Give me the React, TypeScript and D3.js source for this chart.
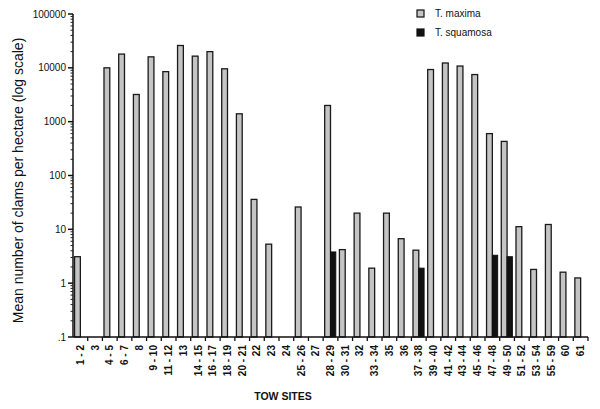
import { useEffect, useRef } from "react";
import * as d3 from "d3";

// tow sites along the x axis
const sites = [
  "1-2", "3", "4-5", "6-7", "8", "9-10", "11-12", "13", "14-15", "16-17",
  "18-19", "20-21", "22", "23", "24", "25-26", "27", "28-29", "30-31", "32",
  "33-34", "35", "36", "37-38", "39-40", "41-42", "43-44", "45-46", "47-48",
  "49-50", "51-52", "53-54", "55-59", "60", "61",
];

// mean clams per hectare, 0 = none found
const maxima = [
  3.1, 0, 10000, 18000, 3200, 16000, 8500, 26000, 16500, 20000,
  9600, 1400, 36, 5.3, 0, 26, 0, 2000, 4.2, 20,
  1.9, 20, 6.7, 4.1, 9300, 12300, 10800, 7500, 600,
  430, 11.2, 1.8, 12.3, 1.6, 1.25,
];
const squamosa = [
  0, 0, 0, 0, 0, 0, 0, 0, 0, 0,
  0, 0, 0, 0, 0, 0, 0, 3.8, 0, 0,
  0, 0, 0, 1.9, 0, 0, 0, 0, 3.3,
  3.1, 0, 0, 0, 0, 0,
];

const yTicks = [0.1, 1, 10, 100, 1000, 10000, 100000];
const yTickLabels = [".1", "1", "10", "100", "1000", "10000", "100000"];

function App() {
  const ref = useRef<SVGSVGElement | null>(null);

  useEffect(() => {
    const svg = d3.select(ref.current);
    svg.selectAll("*").remove();

    const left = 73, right = 588, top = 14, bottom = 337;
    const font = "Liberation Sans, Arial, sans-serif";

    const x = d3.scaleBand().domain(sites).range([left, right]);
    const y = d3.scaleLog().domain([0.1, 100000]).range([bottom, top]);
    const bw = 5.8;

    const g = svg.append("g");

    // maxima bars (left half of each site)
    g.selectAll("rect.max")
      .data(sites.map((s, i) => ({ s, v: maxima[i] })).filter((d) => d.v > 0))
      .enter().append("rect")
      .attr("x", (d) => x(d.s)! + x.bandwidth() / 2 - bw)
      .attr("y", (d) => y(d.v))
      .attr("width", bw)
      .attr("height", (d) => bottom - y(d.v))
      .attr("fill", "#c4c4c4")
      .attr("stroke", "#1a1a1a")
      .attr("stroke-width", 1.3);

    // squamosa bars (right half)
    g.selectAll("rect.sq")
      .data(sites.map((s, i) => ({ s, v: squamosa[i] })).filter((d) => d.v > 0))
      .enter().append("rect")
      .attr("x", (d) => x(d.s)! + x.bandwidth() / 2)
      .attr("y", (d) => y(d.v))
      .attr("width", bw - 0.5)
      .attr("height", (d) => bottom - y(d.v))
      .attr("fill", "#111")
      .attr("stroke", "#111")
      .attr("stroke-width", 1);

    // y axis
    const minor: number[] = [];
    for (let e = -1; e < 5; e++) {
      for (let k = 2; k < 10; k++) minor.push(k * Math.pow(10, e));
    }
    g.append("line")
      .attr("x1", left).attr("x2", left)
      .attr("y1", top).attr("y2", bottom)
      .attr("stroke", "#111").attr("stroke-width", 1.5);
    g.selectAll("line.minor").data(minor).enter().append("line")
      .attr("x1", left - 2.5).attr("x2", left)
      .attr("y1", (d) => y(d)).attr("y2", (d) => y(d))
      .attr("stroke", "#222").attr("stroke-width", 1);
    g.selectAll("line.major").data(yTicks).enter().append("line")
      .attr("x1", left - 5).attr("x2", left)
      .attr("y1", (d) => y(d)).attr("y2", (d) => y(d))
      .attr("stroke", "#111").attr("stroke-width", 1.5);
    g.selectAll("text.ylab").data(yTicks).enter().append("text")
      .attr("x", left - 7)
      .attr("y", (d) => y(d) + 3.5)
      .attr("text-anchor", "end")
      .attr("font-family", font)
      .attr("font-size", 10)
      .attr("fill", "#111")
      .text((d, i) => yTickLabels[i]);

    // x axis
    g.append("line")
      .attr("x1", left).attr("x2", right)
      .attr("y1", bottom).attr("y2", bottom)
      .attr("stroke", "#111").attr("stroke-width", 1.5);
    g.selectAll("line.xt").data(sites).enter().append("line")
      .attr("x1", (d) => x(d)! + x.bandwidth()).attr("x2", (d) => x(d)! + x.bandwidth())
      .attr("y1", bottom).attr("y2", bottom + 4)
      .attr("stroke", "#111").attr("stroke-width", 1.3);
    g.selectAll("text.xlab").data(sites).enter().append("text")
      .attr("transform", (d) => `translate(${x(d)! + x.bandwidth() / 2 + 3.5},${bottom + 8}) rotate(-90)`)
      .attr("text-anchor", "end")
      .attr("font-family", font)
      .attr("font-size", 10)
      .attr("font-weight", "bold")
      .attr("fill", "#111")
      .text((d) => d.replace("-", " - "));

    // axis titles
    svg.append("text")
      .attr("transform", `translate(23,${(top + bottom) / 2 + 5}) rotate(-90)`)
      .attr("text-anchor", "middle")
      .attr("font-family", font)
      .attr("font-size", 14)
      .attr("fill", "#111")
      .text("Mean number of clams per hectare (log scale)");
    svg.append("text")
      .attr("x", 283).attr("y", 400)
      .attr("text-anchor", "middle")
      .attr("font-family", font)
      .attr("font-size", 10.5)
      .attr("font-weight", "bold")
      .attr("fill", "#111")
      .text("TOW  SITES");

    // legend
    const legend = [
      { name: "T. maxima", fill: "#c4c4c4" },
      { name: "T. squamosa", fill: "#111" },
    ];
    const lg = svg.append("g").attr("transform", "translate(417,10)");
    legend.forEach((d, i) => {
      lg.append("rect")
        .attr("x", 0).attr("y", i * 19)
        .attr("width", 7).attr("height", 7)
        .attr("fill", d.fill).attr("stroke", "#111").attr("stroke-width", 1.2);
      lg.append("text")
        .attr("x", 18).attr("y", i * 19 + 7)
        .attr("font-family", font)
        .attr("font-size", 10)
        .attr("fill", "#111")
        .text(d.name);
    });
  }, []);

  return (
    <div style={{ position: "fixed", left: 0, top: 0, width: 600, height: 409, background: "#fff" }}>
      <svg ref={ref} width={600} height={409} style={{ display: "block" }} />
    </div>
  );
}

export default App;
